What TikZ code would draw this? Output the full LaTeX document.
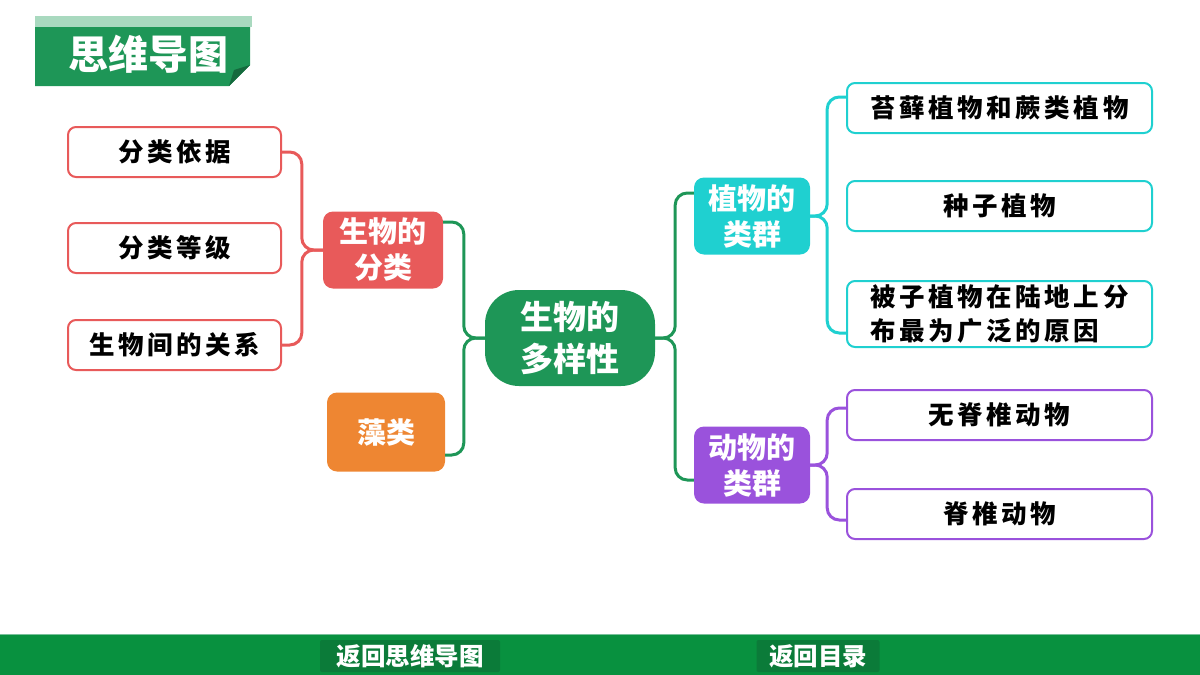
\documentclass[tikz,border=0pt]{standalone}
\usepackage{fontspec}
\setmainfont{Noto Sans CJK SC}
\newfontfamily\kaiti[LetterSpace=14]{Noto Sans CJK SC}
\usepackage{tikz}
\usetikzlibrary{calc}
\usepackage{xcolor}
\definecolor{verde}{HTML}{1E9657}
\definecolor{verdeclaro}{HTML}{A9D9BF}
\definecolor{barra}{HTML}{08913F}
\definecolor{botao}{HTML}{0B7B39}
\definecolor{vermelho}{HTML}{E85A5A}
\definecolor{laranja}{HTML}{EE8632}
\definecolor{ciano}{HTML}{1FD0D0}
\definecolor{roxo}{HTML}{9A52DC}
\tikzset{
  raiz/.style={fill=verde, rounded corners=34pt, minimum width=170pt, minimum height=96pt,
    text=white, align=center, font=\fontsize{33}{42}\selectfont\bfseries},
  ramo/.style={rounded corners=10pt, minimum width=120pt, minimum height=77pt,
    text=white, align=center, font=\fontsize{29}{36}\selectfont\bfseries},
  folha/.style={draw, fill=white, line width=2pt, rounded corners=8pt, minimum height=50pt,
    inner sep=2pt, font=\kaiti\fontsize{25.5}{34}\selectfont\bfseries},
  liga/.style={line width=3pt, rounded corners=12pt},
}

\begin{document}
\begin{tikzpicture}[x=1pt,y=-1pt]
\useasboundingbox (0,0) rectangle (1200,675);
% Titulo
\fill[verdeclaro] (35,16) rectangle (252,27);
\fill[verde] (35,27) -- (250,27) -- (250,65) -- (229,86) -- (35,86) -- cycle;
\fill[verde!70!black] (250,65) -- (229,86) -- (234,70) -- cycle;
\node[text=white, font=\fontsize{40}{40}\selectfont\bfseries] (titulo) at (148,54) {思维导图};
% Barra inferior
\fill[barra] (0,635) rectangle (1200,675);
\draw[verde!60!white, line width=1pt] (0,634.5) -- (1200,634.5);
\node[fill=botao, rounded corners=2pt, minimum width=180pt, minimum height=32pt, text=white,
  font=\fontsize{24.5}{24.5}\selectfont\bfseries] (voltamapa) at (410,656) {返回思维导图};
\node[fill=botao, rounded corners=2pt, minimum width=123pt, minimum height=32pt, text=white,
  font=\fontsize{24.5}{24.5}\selectfont\bfseries] (voltaindice) at (818,656) {返回目录};
% Centro
\node[raiz] (centro) at (570,338) {生物的\\多样性};
% Lado esquerdo
\node[ramo, fill=vermelho] (fenlei) at (383,250) {生物的\\分类};
\node[ramo, fill=laranja, minimum width=118pt, minimum height=79pt] (zaolei) at (386,432) {藻类};
\node[folha, draw=vermelho, minimum width=213pt] (yiju) at (174.5,152) {分类依据};
\node[folha, draw=vermelho, minimum width=213pt] (dengji) at (174.5,248) {分类等级};
\node[folha, draw=vermelho, minimum width=213pt] (guanxi) at (174.5,345) {生物间的关系};
% Lado direito
\node[ramo, fill=ciano, minimum width=116pt] (zhiwu) at (752,216) {植物的\\类群};
\node[ramo, fill=roxo, minimum width=116pt] (dongwu) at (752,465) {动物的\\类群};
\node[folha, draw=ciano, minimum width=305pt] (taixian) at (999.5,108) {苔藓植物和蕨类植物};
\node[folha, draw=ciano, minimum width=305pt] (zhongzi) at (999.5,206) {种子植物};
\node[folha, draw=ciano, minimum width=305pt, minimum height=66pt, align=left] (beizi) at (999.5,314)
  {被子植物在陆地上分\\布最为广泛的原因};
\node[folha, draw=roxo, minimum width=305pt] (wujizhui) at (999.5,415) {无脊椎动物};
\node[folha, draw=roxo, minimum width=305pt] (jizhui) at (999.5,514) {脊椎动物};
% Ligacoes
\draw[liga, verde] ([yshift=28pt]fenlei.east) -| ($(centro.west)+(-21,0)$) -- (centro.west);
\draw[liga, verde] ([yshift=-23pt]zaolei.east) -| ($(centro.west)+(-21,0)$) -- (centro.west);
\draw[liga, verde] ([yshift=23pt]zhiwu.west) -| ($(centro.east)+(20,0)$) -- (centro.east);
\draw[liga, verde] ([yshift=-15pt]dongwu.west) -| ($(centro.east)+(20,0)$) -- (centro.east);
\draw[liga, vermelho] (yiju.east) -| ($(fenlei.west)+(-21,0)$) -- (fenlei.west);
\draw[liga, vermelho] (guanxi.east) -| ($(fenlei.west)+(-21,0)$) -- (fenlei.west);
\draw[liga, ciano] ([yshift=11pt]taixian.west) -| ($(zhiwu.east)+(17,0)$) -- (zhiwu.east);
\draw[liga, ciano] ([yshift=-19pt]beizi.west) -| ($(zhiwu.east)+(17,0)$) -- (zhiwu.east);
\draw[liga, roxo] ([yshift=7pt]wujizhui.west) -| ($(dongwu.east)+(17,0)$) -- (dongwu.east);
\draw[liga, roxo] ([yshift=-6pt]jizhui.west) -| ($(dongwu.east)+(17,0)$) -- (dongwu.east);
\end{tikzpicture}
\end{document}
